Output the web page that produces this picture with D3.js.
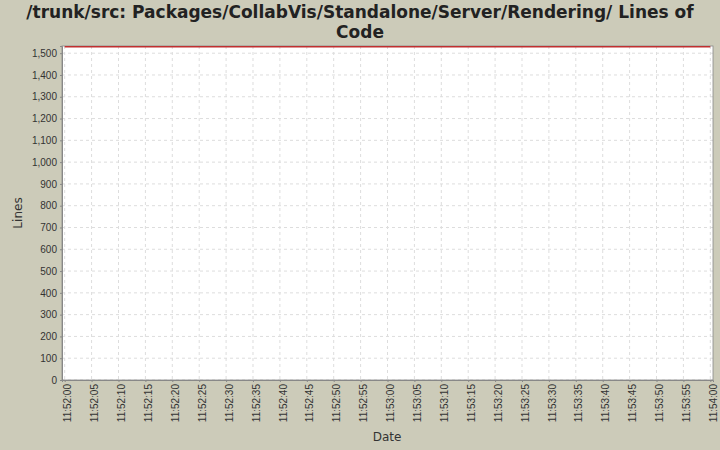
<!DOCTYPE html><html><head><meta charset="utf-8"><script src="https://cdn.jsdelivr.net/npm/d3@7"></script>
<style>body{margin:0;background:#cccbb9}svg{display:block;font-family:"DejaVu Sans",sans-serif}</style></head><body><svg width="720" height="450"></svg><script>
const titleLines=["/trunk/src: Packages/CollabVis/Standalone/Server/Rendering/ Lines of","Code"];
const times=["11:52:00","11:52:30","11:53:00","11:53:30","11:54:00"];
const values=[1530,1530,1530,1530,1530];
const yTicks=d3.range(0,1501,100);
const svg=d3.select("svg");
const pd=s=>new Date("2000-01-01T"+s);
const L=62,R=713,T=46,B=380;
const x=d3.scaleTime().domain([new Date(pd("11:52:00")-500),new Date(+pd("11:54:00")+500)]).range([L,R]);
const y=d3.scaleLinear().domain([0,1533]).range([B,T]);
svg.append("rect").attr("x",L).attr("y",T).attr("width",R-L).attr("height",B-T).attr("fill","#fff");
const xt=d3.range(0,25).map(i=>new Date(+pd("11:52:00")+i*5000));
svg.append("g").selectAll("line").data(xt).join("line").attr("x1",d=>x(d)).attr("x2",d=>x(d)).attr("y1",T).attr("y2",B).attr("stroke","#ddd").attr("stroke-dasharray","3,3");
svg.append("g").selectAll("line").data(yTicks).join("line").attr("x1",L).attr("x2",R).attr("y1",d=>y(d)).attr("y2",d=>y(d)).attr("stroke","#ddd").attr("stroke-dasharray","3,3");
svg.append("rect").attr("x",L).attr("y",T).attr("width",R-L).attr("height",B-T).attr("fill","none").attr("stroke","#888").attr("stroke-width",0.8);
const ya=svg.append("g").attr("transform",`translate(${L},0)`).call(d3.axisLeft(y).tickValues(yTicks).tickFormat(d3.format(",")).tickSize(2).tickPadding(3));
const xa=svg.append("g").attr("transform",`translate(0,${B})`).call(d3.axisBottom(x).tickValues(xt).tickFormat(d3.timeFormat("%H:%M:%S")).tickSize(2));
[ya,xa].forEach(a=>{a.selectAll("path").attr("stroke","#888");a.selectAll("line").attr("stroke","#888");a.selectAll("text").attr("font-size",10).attr("fill","#333");});
xa.selectAll("text").attr("transform","rotate(-90)").attr("text-anchor","end").attr("dx","-4").attr("dy","-0.3em").attr("x",0).attr("y",0).style("dominant-baseline","middle");
xa.selectAll("text").attr("dy","0.35em");
svg.append("path").datum(times.map((t,i)=>[pd(t),values[i]])).attr("fill","none").attr("stroke","#c03030").attr("stroke-width",1.5).attr("d",d3.line().x(d=>x(d[0])).y(d=>y(d[1])));
svg.append("g").selectAll("text").data(titleLines).join("text").attr("x",360).attr("y",(d,i)=>18+i*20).attr("text-anchor","middle").attr("font-size",17).attr("font-weight","bold").attr("fill","#222").text(d=>d);
svg.append("text").attr("x",387).attr("y",441).attr("text-anchor","middle").attr("font-size",12).attr("fill","#333").text("Date");
svg.append("text").attr("transform","translate(22,213) rotate(-90)").attr("text-anchor","middle").attr("font-size",12).attr("fill","#333").text("Lines");
</script></body></html>
